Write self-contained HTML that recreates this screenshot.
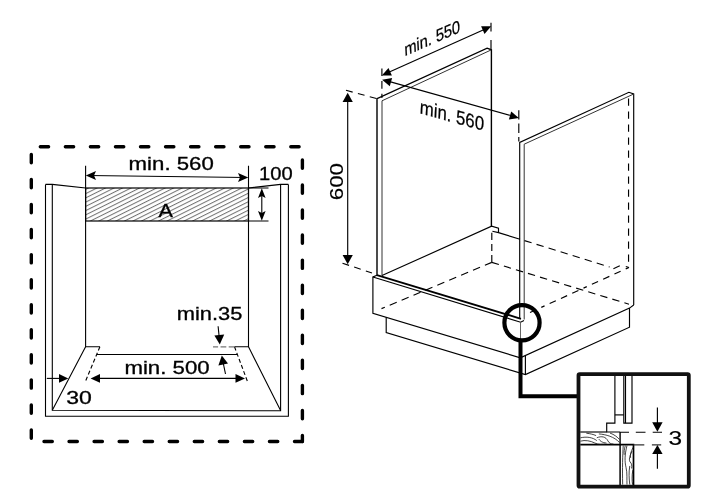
<!DOCTYPE html>
<html><head><meta charset="utf-8">
<style>
html,body{margin:0;padding:0;background:#fff;}
svg{display:block;}
text{font-family:"Liberation Sans",sans-serif;fill:#000;}
svg{filter:grayscale(1);}
</style></head>
<body>
<svg width="709" height="503" viewBox="0 0 709 503">
<defs>
<pattern id="hatch" width="10" height="3.8" patternUnits="userSpaceOnUse" patternTransform="translate(0 1.2) rotate(-26.5)">
<line x1="-1" y1="1.5" x2="11" y2="1.5" stroke="#222" stroke-width="0.68"/>
</pattern>
</defs>
<rect width="709" height="503" fill="#fff"/>

<!-- ============ LEFT DIAGRAM ============ -->
<g id="left" fill="none" stroke="#000" stroke-width="1.1">
<!-- dashed border -->
<g stroke-width="3.4" stroke-dasharray="8.3 16.75" stroke-linecap="round">
<path d="M40.3 146.7H302"/>
<path d="M31.3 154.4V441"/>
<path d="M302.4 159.9V441.5"/>
<path d="M44 441.5H302.4"/>
</g>
<!-- outer walls -->
<path d="M45.5 184.4V416.2H288.4V184.4"/>
<path d="M52.3 184.4V410.3L280.6 410.8V184.4"/>
<path d="M45.5 184.4H52.3L85.6 188"/>
<path d="M288.4 184.4H280.6L248.5 188"/>
<!-- opening verticals -->
<path d="M85.6 165.8V346.8H99.9"/>
<path d="M248.5 165.8V346.8H234.5"/>
<!-- hatch -->
<rect x="85.6" y="188" width="162.9" height="33" fill="url(#hatch)" stroke="#000" stroke-width="1.2"/>
<path d="M248.5 188H268.5M248.5 221H268.5"/>
<!-- slants -->
<path d="M85.6 346.8L52.3 410.3M248.5 346.8L280.6 410.6"/>
<path d="M99.9 346.8L85.6 381" stroke-dasharray="4 2.5"/>
<path d="M234.5 346.8L247.3 381" stroke-dasharray="4 2.5"/>
<path d="M97 354.5H237"/>
<path d="M234.5 346.8H213" stroke="#777" stroke-width="1.3" stroke-dasharray="5.8 2.4"/>
<!-- dim lines -->
<path d="M88 175.5L246 177.5"/>
<path d="M261.8 191V218"/>
<path d="M46.8 378.4H62"/>
<path d="M96 378.4H240"/>
<path d="M218.1 326.2L219.3 338"/>
<path d="M225.5 374L223 362"/>
</g>
<g id="leftarrows" fill="#000" stroke="none">
<polygon points="85.8,175.4 96,171 94,175.5 96,180"/>
<polygon points="248.3,177.6 238,173 240,177.5 238,182"/>
<polygon points="261.8,188.2 258,198 261.8,196 265.6,198"/>
<polygon points="261.8,220.8 258,211 261.8,213 265.6,211"/>
<polygon points="68.3,378.4 59,374 59,382.8"/>
<polygon points="90.6,378.4 100,374 100,382.8"/>
<polygon points="245,378.4 235.5,374 235.5,382.8"/>
<polygon points="219.8,344.4 214.4,335.4 224.2,334.4"/>
<polygon points="221.8,355.6 218.4,365.4 228,363.4"/>
</g>
<g id="lefttext" stroke="#000" stroke-width="0.3">
<text x="128.6" y="170.4" font-size="17.8" textLength="85.2" lengthAdjust="spacingAndGlyphs">min. 560</text>
<text x="259" y="180.2" font-size="17.8" textLength="33.6" lengthAdjust="spacingAndGlyphs">100</text>
<text x="158.6" y="217" font-size="17.8" textLength="14.4" lengthAdjust="spacingAndGlyphs">A</text>
<text x="176.8" y="320.4" font-size="17.8" textLength="65.6" lengthAdjust="spacingAndGlyphs">min.35</text>
<text x="124.4" y="374" font-size="17.8" textLength="85.2" lengthAdjust="spacingAndGlyphs">min. 500</text>
<text x="66.3" y="404.4" font-size="17.8" textLength="25.6" lengthAdjust="spacingAndGlyphs">30</text>
</g>

<!-- ============ RIGHT DIAGRAM ============ -->
<g id="right" fill="none" stroke="#000" stroke-width="1.15">
<!-- left panel -->
<path d="M377 275.4V98.7L487.1 48.2L491.4 49.8V226.2" stroke-width="1.4"/>
<path d="M382 275.6V100.8L491.4 49.8" stroke-width="1" stroke="#333"/>
<!-- right panel -->
<path d="M519.7 318.6V142.4L628.9 92.3L633.7 94V305" />
<path d="M524.2 319.5V144.2L633.7 94" stroke="#333" stroke-width="1"/>
<path d="M628.55 261.7V95" stroke-dasharray="7.3 5.7"/>
<!-- floor -->
<path d="M382 275.6L491.6 226.2L498.5 228.1V232.6"/>
<path d="M492.4 231.2L498.5 232.6L520 239.3"/>
<path d="M524.5 240.6L609.6 267" stroke-dasharray="7.4 5.2"/>
<path d="M613.4 268.7L619.8 265.8M625.8 266.5L629 267.5"/>
<path d="M377 275.2L521 318.8" stroke-width="1.9"/>
<path d="M372.9 277L520.6 322.2L524 320.5"/>
<!-- box -->
<path d="M377 275.2L372.9 277V313.2L520.3 357.8L629.5 308.1L633.7 305"/>
<path d="M386.2 317.2V332.6L525.4 374.6L629.5 327.2V308.1"/>
<path d="M525.4 355.6V374.6"/>
<path d="M520.5 322V358" stroke="#555" stroke-width="0.9"/>
<!-- dashed hidden -->
<path d="M491.8 232.8V262.4" stroke-dasharray="7.2 3.9"/>
<path d="M381.5 308.6L491.8 262.4" stroke-dasharray="7.6 5.3" stroke-dashoffset="4"/>
<path d="M491.8 262.4L629 304.2" stroke-dasharray="7.4 5.2"/>
<path d="M629 267.4L527 313.9" stroke-dasharray="3.6 5.6 6.8 5.6 6.8 5.6 6.8 5.6"/>
<path d="M346 90.3L376.8 98.6" stroke-dasharray="6.9 5.4"/>
<path d="M342.5 263.2L372 273" stroke-dasharray="6.9 5.4"/>
<path d="M381.9 68.5V98" stroke-dasharray="7.6 5"/>
<path d="M491 22.8V31.5M491 40V49.4"/>
<path d="M518.8 110.2V119.6M518.8 123.6V133M518.8 137V141.4"/>
<!-- dims -->
<path d="M386 73.4L487 28.2"/>
<path d="M387 80.9L514 116.4"/>
<path d="M347.7 98V259"/>
</g>
<g fill="#000" stroke="none">
<polygon points="381.8,75.5 391.9,75.6 388.5,67.9"/>
<polygon points="491.2,26.3 481.1,26.2 484.5,33.9"/>
<polygon points="382.1,79.7 389.8,86.2 392.1,78.1"/>
<polygon points="518.9,117.9 511.2,111.4 508.9,119.5"/>
<polygon points="347.7,92.8 342.6,102 352.8,102"/>
<polygon points="347.7,264.3 342.6,255 352.8,255"/>
</g>
<g>
<text transform="matrix(0.822,-0.358,0.06,1,404.7,56.2)" font-size="17.7" stroke="#000" stroke-width="0.25">min. 550</text>
<text transform="matrix(0.868,0.237,-0.05,1,419.5,113.3)" font-size="19.3" stroke="#000" stroke-width="0.25">min. 560</text>
<text transform="translate(342.9 200.3) rotate(-90)" font-size="18.3" textLength="37.4" lengthAdjust="spacingAndGlyphs" stroke="#000" stroke-width="0.15">600</text>
</g>

<!-- circle + leader -->
<g fill="none" stroke="#000">
<circle cx="522" cy="322.7" r="17.6" stroke-width="4.2"/>
<path d="M520.5 340V396.2H578" stroke-width="4"/>
</g>

<!-- ============ INSET ============ -->
<g id="inset" fill="none" stroke="#000" stroke-width="1.15">
<rect x="578.5" y="374.1" width="110.3" height="112.6" rx="1.2" stroke-width="3.8" fill="#fff" stroke="#111"/>
<path d="M614.9 376V423.1H606.7V432H620.1"/>
<path d="M614.9 414.9H623.8"/>
<path d="M623.8 376V423.1H632V376"/>
<path d="M625.5 376V423.1"/>
<path d="M620.1 432V444.7" stroke-width="1.4"/>
<path d="M580.3 432H606.7"/>
<path d="M580.3 444.7H633.5V485" stroke-width="1.7"/>
<path d="M620.1 444.7V485" stroke-width="1.5"/>
<path d="M620.1 432.2H629M635.8 432.2H645.5M652.7 432.2H662"/>
<path d="M633.5 444.9H644.3M651.9 444.9H661.2" stroke="#333"/>
<path d="M657.4 407.5V424M657.4 452V468.8"/>
<!-- wood grain -->
<g transform="translate(578 420) scale(0.13916)" stroke-width="5.6" stroke="#111">
<path d="M18 152C50 142 90 150 120 165S170 174 195 174"/>
<path d="M18 128C60 118 105 124 135 148"/>
<path d="M135 128C170 113 200 120 215 150C222 166 238 173 255 173"/>
<path d="M150 137C160 152 172 162 205 166"/>
<path d="M150 100C200 104 262 120 298 162"/>
<path d="M230 94C260 104 285 124 298 140"/>
<path d="M60 95C90 98 110 104 130 112"/>
<path d="M325 184C321 250 318 350 321 464"/>
<path d="M352 184C335 250 335 300 345 340C355 380 350 430 352 464"/>
<path d="M388 225C370 258 364 290 375 302C386 312 389 330 385 348"/>
<path d="M396 196C380 228 374 250 378 272"/>
<path d="M372 330C364 380 367 420 372 464"/>
<path d="M394 360C386 400 388 440 392 464"/>
<path d="M340 184C332 210 330 230 332 250"/>
</g>
</g>
<g fill="#000" stroke="none">
<polygon points="657.4,431.7 652.2,422.3 662.6,422.3"/>
<polygon points="657.4,445.1 652.2,454 662.6,454"/>
</g>
<text x="668.4" y="444.6" font-size="19.4" textLength="13.6" lengthAdjust="spacingAndGlyphs" stroke="#000" stroke-width="0.15">3</text>
</svg>
</body></html>
